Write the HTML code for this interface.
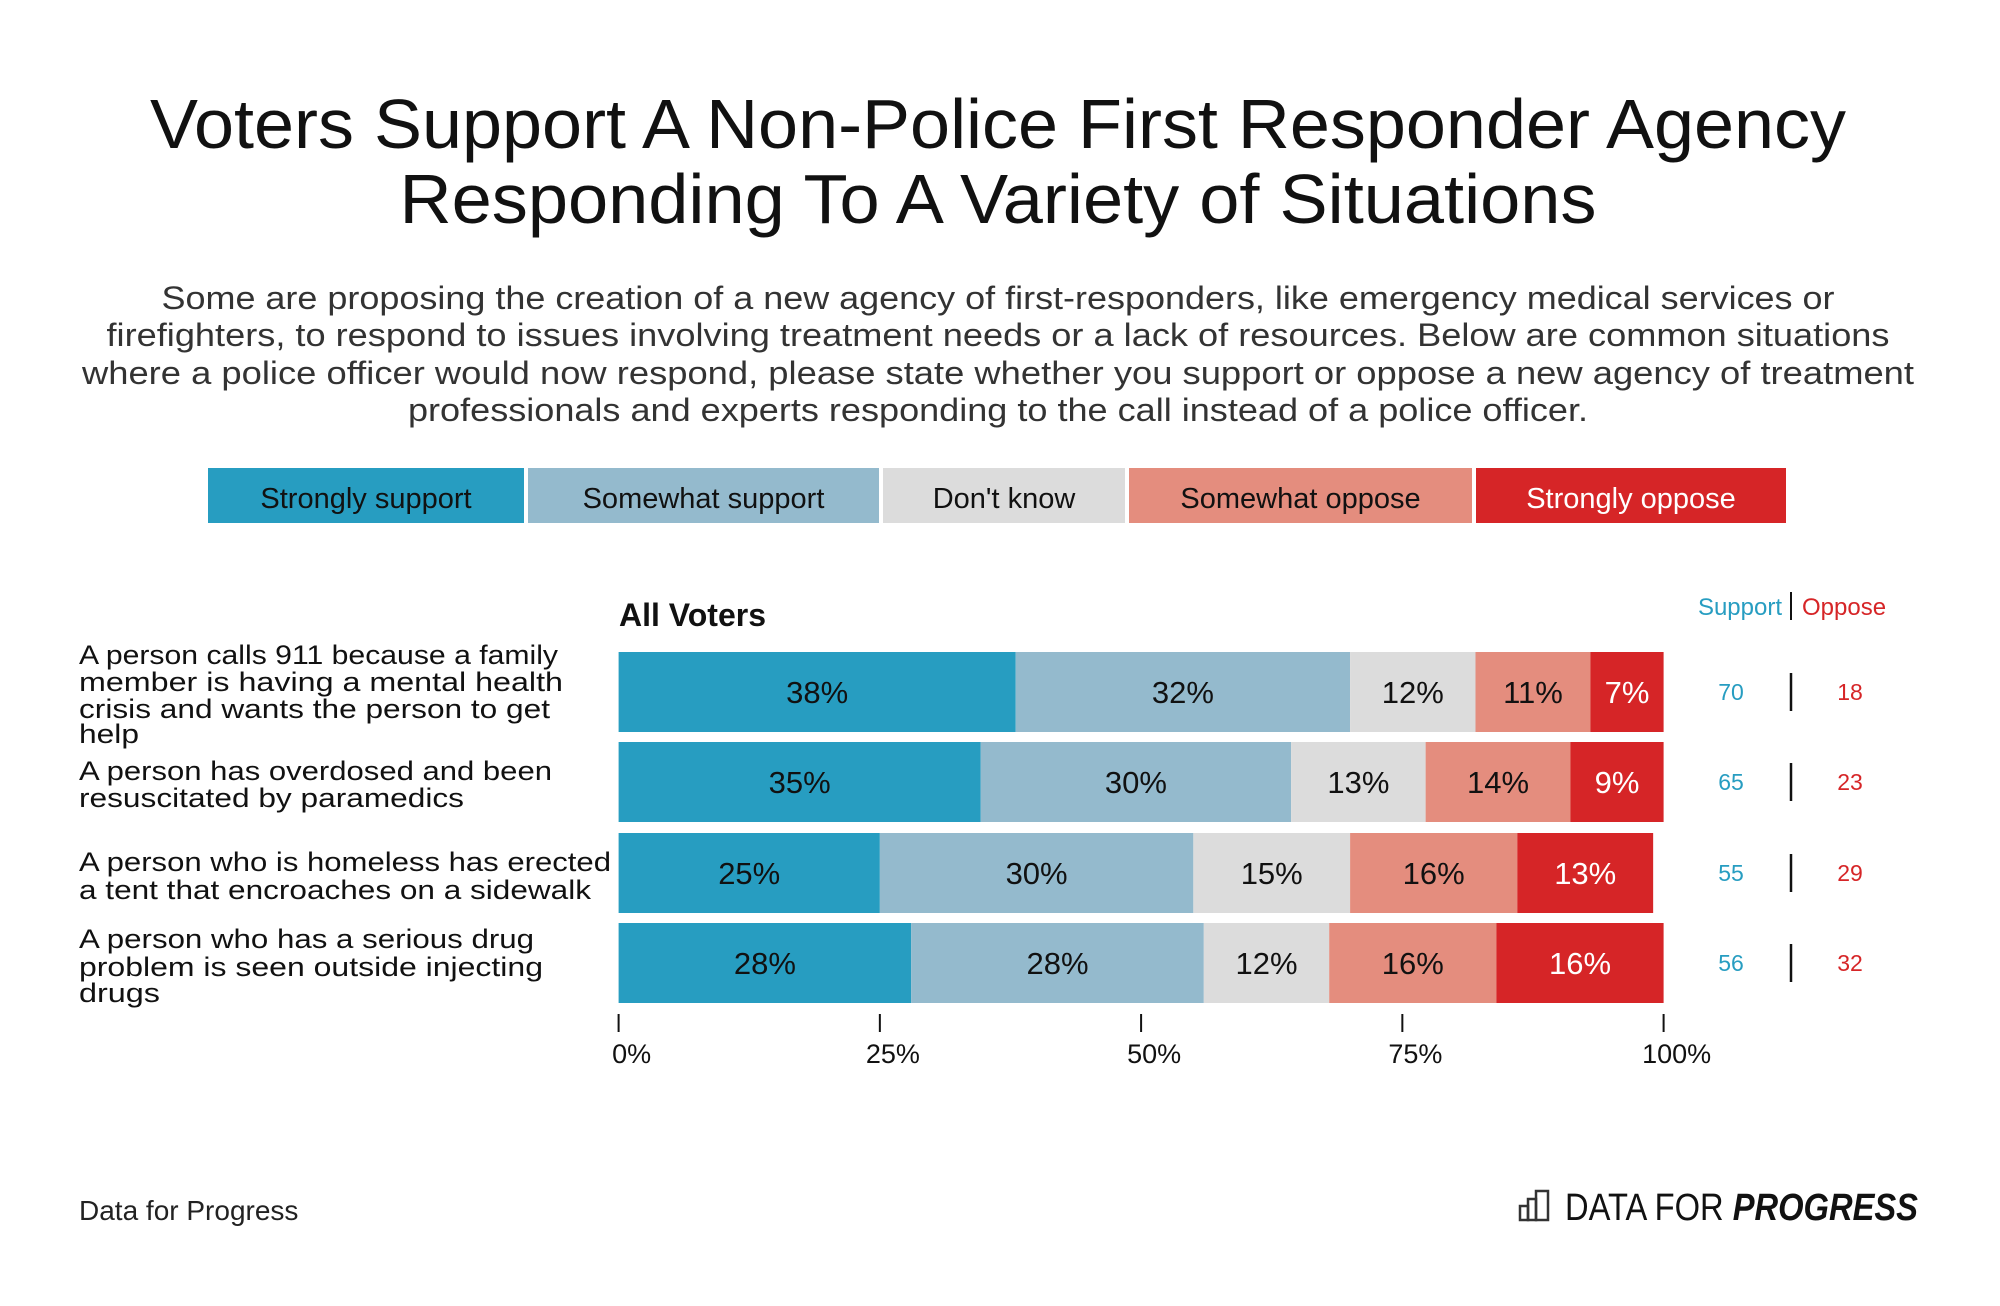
<!DOCTYPE html>
<html><head><meta charset="utf-8"><style>
html,body{margin:0;padding:0;background:#fff;}
svg{display:block;font-family:"Liberation Sans",sans-serif;}
</style></head><body>
<svg id="chart" width="2000" height="1306" viewBox="0 0 2000 1306">
<rect width="2000" height="1306" fill="#fff"/>
<g font-size="70" fill="#111" text-anchor="middle">
<text x="998" y="148" textLength="1696" lengthAdjust="spacingAndGlyphs">Voters Support A Non-Police First Responder Agency</text>
<text x="998" y="223" textLength="1197" lengthAdjust="spacingAndGlyphs">Responding To A Variety of Situations</text>
</g>
<g font-size="32" fill="#333" text-anchor="middle">
<text x="998" y="309" textLength="1673" lengthAdjust="spacingAndGlyphs">Some are proposing the creation of a new agency of first-responders, like emergency medical services or</text>
<text x="998" y="346" textLength="1783" lengthAdjust="spacingAndGlyphs">firefighters, to respond to issues involving treatment needs or a lack of resources. Below are common situations</text>
<text x="998" y="384" textLength="1832" lengthAdjust="spacingAndGlyphs">where a police officer would now respond, please state whether you support or oppose a new agency of treatment</text>
<text x="998" y="421" textLength="1180" lengthAdjust="spacingAndGlyphs">professionals and experts responding to the call instead of a police officer.</text>
</g>
<g id="legend"></g>
<text x="619" y="626" font-size="32" font-weight="bold" fill="#111">All Voters</text>
<text x="1782" y="615" font-size="24" fill="#279dc1" text-anchor="end">Support</text>
<line x1="1791" x2="1791" y1="592" y2="620" stroke="#111" stroke-width="2"/>
<text x="1802" y="615" font-size="24" fill="#d62527">Oppose</text>
<g id="labels" font-size="27" fill="#111"></g>
<g id="bars"></g>
<g id="axis"></g>
<text x="79" y="1220" font-size="28" fill="#222">Data for Progress</text>
<g>
<g fill="none" stroke="#333" stroke-width="2.5">
<rect x="1520" y="1206" width="8" height="14"/><rect x="1528" y="1199" width="8" height="21"/><rect x="1536" y="1191" width="12" height="29"/>
</g>
<text x="1565" y="1220" font-size="38" fill="#111" textLength="353" lengthAdjust="spacingAndGlyphs">DATA FOR <tspan font-weight="bold" font-style="italic">PROGRESS</tspan></text>
</g>
</svg>
<script>
const categories = ["Strongly support","Somewhat support","Don't know","Somewhat oppose","Strongly oppose"];
const stronglySupport = [38,35,25,28];
const somewhatSupport = [32,30,30,28];
const dontKnow = [12,13,15,12];
const somewhatOppose = [11,14,16,16];
const stronglyOppose = [7,9,13,16];
const supportTotals = [70,65,55,56];
const opposeTotals = [18,23,29,32];
const tickValues = [0,25,50,75,100];
const tickLabels = ["0%","25%","50%","75%","100%"];
const rowLabels = [
 ["A person calls 911 because a family","member is having a mental health","crisis and wants the person to get","help"],
 ["A person has overdosed and been","resuscitated by paramedics"],
 ["A person who is homeless has erected","a tent that encroaches on a sidewalk"],
 ["A person who has a serious drug","problem is seen outside injecting","drugs"]
];
const NS="http://www.w3.org/2000/svg";
const colors=["#279dc1","#94bacd","#dcdcdc","#e48d7e","#d62527"];
const textColors=["#111","#111","#111","#111","#fff"];
const X0=618.6, XW=1045;
const xs=v=>X0+v/100*XW;
const rowTop=[652,742,833,923], BH=80;
function mk(tag,attrs,parent){const e=document.createElementNS(NS,tag);for(const k in attrs)e.setAttribute(k,attrs[k]);parent.appendChild(e);return e;}
const legend=document.getElementById('legend');
const lx=[208,528,883,1129,1476], lw=[316,351,242,343,310];
categories.forEach((c,i)=>{
 const r=mk('rect',{x:lx[i],y:468,width:lw[i],height:55,fill:colors[i]},legend);
 
 
 const t=mk('text',{x:lx[i]+lw[i]/2,y:508,'font-size':29,fill:textColors[i],'text-anchor':'middle'},legend);
 t.textContent=c;
 
 
});
const lineLens=[[479,484,471,60],[473,385],[532,512],[455,464,81]];
const lineBase=[[664,691,718,743],[780,807],[871,899],[948,976,1002]];
const lg=document.getElementById('labels');
rowLabels.forEach((lines,r)=>lines.forEach((ln,j)=>{
 const t=mk('text',{x:79,y:lineBase[r][j],textLength:lineLens[r][j],lengthAdjust:'spacingAndGlyphs'},lg);
 t.textContent=ln;
 
 
}));
const bars=document.getElementById('bars');
const series=[stronglySupport,somewhatSupport,dontKnow,somewhatOppose,stronglyOppose];
for(let r=0;r<4;r++){
 let acc=0;const y=rowTop[r];
 const total=series.reduce((a,s)=>a+s[r],0);
 const k=total>100?100/total:1;
 series.forEach((s,i)=>{
  const v=s[r]*k;
  const rect=mk('rect',{x:xs(acc),y:y,width:xs(acc+v)-xs(acc),height:BH,fill:colors[i]},bars);
  
  
  const t=mk('text',{x:(xs(acc)+xs(acc+v))/2,y:y+BH/2+11,'font-size':31,fill:textColors[i],'text-anchor':'middle'},bars);
  t.textContent=s[r]+'%';
  
  
  acc+=v;
 });
 const cy=y+BH/2;
 const st=mk('text',{x:1731,y:cy+8,'font-size':23,fill:'#279dc1','text-anchor':'middle'},bars);
 st.textContent=supportTotals[r];
 
 
 const sep=mk('line',{x1:1791,x2:1791,y1:cy-19,y2:cy+19,stroke:'#111','stroke-width':2.5},bars);
 
 
 const ot=mk('text',{x:1850,y:cy+8,'font-size':23,fill:'#d62527','text-anchor':'middle'},bars);
 ot.textContent=opposeTotals[r];
 
 
}
const ax=document.getElementById('axis');
tickValues.forEach((v,i)=>{
 const l=mk('line',{x1:xs(v),x2:xs(v),y1:1014,y2:1032,stroke:'#111','stroke-width':2},ax);
 
 
 const t=mk('text',{x:xs(v)+13,y:1063,'font-size':27,fill:'#111','text-anchor':'middle'},ax);
 t.textContent=tickLabels[i];
 
 
});
</script>
</body></html>
